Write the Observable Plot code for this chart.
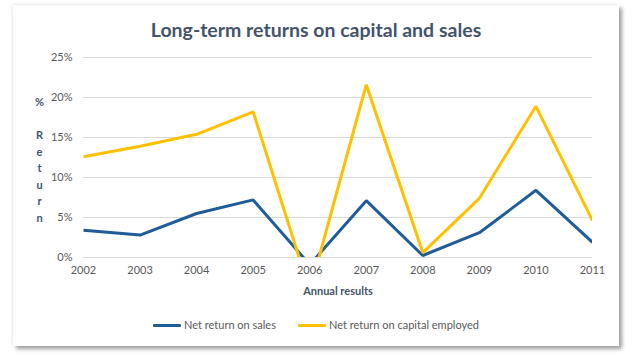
<!DOCTYPE html>
<html>
<head>
<meta charset="utf-8">
<script src="https://cdn.jsdelivr.net/npm/d3@7"></script>
<script src="https://cdn.jsdelivr.net/npm/@observablehq/plot@0.6"></script>
<style>
  html, body { margin: 0; padding: 0; background: #fff; width: 632px; height: 357px; overflow: hidden; }
  #card { position: absolute; left: 13px; top: 5px; width: 606px; height: 341px; background: #fff;
    box-shadow: 3px 3px 4px rgba(0,0,0,0.38), -1px -1px 3px rgba(0,0,0,0.08); font-family: Lato, "Open Sans", sans-serif; }
  #title { position: absolute; left: 0; top: 14px; width: 606px; text-align: center; line-height: 22px;
    font-size: 19.5px; font-weight: bold; color: #44546A; }
  #chart { position: absolute; left: 0; top: 40px; }
  #legend { position: absolute; left: 0; top: 312px; width: 606px; display: flex; justify-content: center; gap: 22px;
    font-size: 11px; line-height: 16px; color: #595959; }
  .item { display: flex; align-items: center; }
  .sw { display: inline-block; width: 28px; height: 3px; margin-right: 3px; border-radius: 1px; }
</style>
</head>
<body>
<div id="card">
  <div id="title"></div>
  <div id="chart"></div>
  <div id="legend"></div>
</div>
<script>
const titleText = "Long-term returns on capital and sales";
const years = [2002, 2003, 2004, 2005, 2006, 2007, 2008, 2009, 2010, 2011];
const salesReturn = [3.4, 2.8, 5.5, 7.2, -0.9, 7.1, 0.25, 3.1, 8.4, 1.9];
const capitalReturn = [12.6, 13.9, 15.4, 18.2, -4.2, 21.6, 0.6, 7.4, 18.9, 4.6];
const yTicks = [0, 5, 10, 15, 20, 25];
const seriesNames = ["Net return on sales", "Net return on capital employed"];
const seriesColors = ["#1F5C99", "#FFC000"];
const xLabel = "Annual results";
const yLabelLines = ["%", "", "R", "e", "t", "u", "r", "n"];

const data = [];
years.forEach((y, i) => {
  data.push({year: y, value: salesReturn[i], series: seriesNames[0]});
  data.push({year: y, value: capitalReturn[i], series: seriesNames[1]});
});

document.getElementById("title").textContent = titleText;

const plot = Plot.plot({
  width: 606,
  height: 260,
  marginTop: 12,
  marginBottom: 48,
  marginLeft: 70,
  marginRight: 27,
  style: {fontFamily: "Lato, 'Open Sans', sans-serif", fontSize: "11px", color: "#595959", background: "transparent"},
  x: {domain: [years[0], years[years.length - 1]], ticks: years, tickFormat: d => String(d), tickSize: 0, tickPadding: 9, label: null},
  y: {domain: [0, 25], ticks: yTicks, tickFormat: d => `${d}%`, tickSize: 0, tickPadding: 11, label: null},
  color: {domain: seriesNames, range: seriesColors},
  marks: [
    Plot.gridY(yTicks, {stroke: "#D9D9D9", strokeOpacity: 1, strokeWidth: 1}),
    Plot.line(data, {x: "year", y: "value", z: "series", stroke: "series", strokeWidth: 3, clip: true,
      strokeLinejoin: "miter", strokeLinecap: "butt"}),
    Plot.text([yLabelLines.join("\n")], {frameAnchor: "top-left", dx: -44, dy: 37, lineAnchor: "top",
      lineHeight: 1.5, fill: "#44546A", fontWeight: "bold", fontSize: 11, textAnchor: "middle"}),
    Plot.text([xLabel], {frameAnchor: "bottom", dy: 34, lineAnchor: "middle",
      fill: "#44546A", fontWeight: "bold", fontSize: 11})
  ]
});
document.getElementById("chart").appendChild(plot);

const legend = d3.select("#legend");
seriesNames.forEach((n, i) => {
  const it = legend.append("div").attr("class", "item");
  it.append("span").attr("class", "sw").style("background", seriesColors[i]);
  it.append("span").text(n);
});
</script>
</body>
</html>
